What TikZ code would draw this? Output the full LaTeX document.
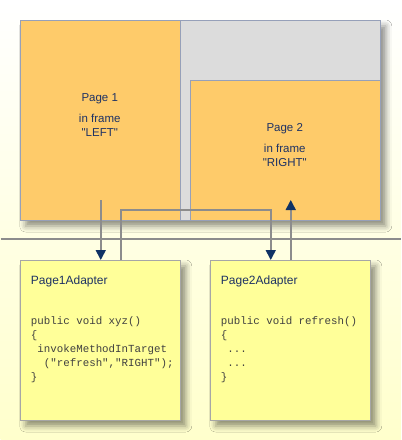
\documentclass[tikz,border=0pt]{standalone}
\usepackage{fontspec}
\setmainfont{Liberation Sans}
\setmonofont{Liberation Mono}
\usepackage{tikz}
\usetikzlibrary{arrows.meta,positioning,shadows.blur}
\definecolor{pageorange}{RGB}{254,203,106}
\definecolor{framegray}{RGB}{220,220,220}
\definecolor{adapteryellow}{RGB}{255,255,153}
\definecolor{textnavy}{RGB}{30,50,100}
\definecolor{codegray}{RGB}{64,64,64}
\definecolor{tipblue}{RGB}{15,50,100}
\definecolor{wiregray}{RGB}{140,140,140}
\definecolor{edgeblue}{RGB}{150,160,185}

\begin{document}
\begin{tikzpicture}[x=1pt,y=-1pt,
    boxshadow/.style={blur shadow={shadow xshift=5pt,shadow yshift=-6pt,shadow blur radius=6pt,shadow opacity=45}},
    browser/.style={draw=edgeblue,fill=framegray,line width=0.8pt,inner sep=0pt,outer sep=0pt,boxshadow},
    page/.style={draw=edgeblue,fill=pageorange,line width=0.8pt,inner sep=0pt,outer sep=0pt},
    adapter/.style={draw=gray!70,fill=adapteryellow,line width=0.8pt,inner sep=0pt,outer sep=0pt,
        minimum width=160pt,minimum height=160pt,anchor=north west,boxshadow},
    pagetext/.style={text=textnavy,font=\fontsize{11.5}{14}\selectfont,align=center,inner sep=0pt},
    title/.style={text=textnavy,font=\fontsize{12}{14}\selectfont,inner sep=0pt,anchor=base west},
    code/.style={text=codegray,font=\ttfamily\fontsize{10.8}{14}\selectfont,align=left,inner sep=0pt,anchor=north west},
    wire/.style={draw=wiregray,line width=1.6pt},
    link/.style={wire,-{Triangle[width=10pt,length=10pt,color=tipblue]}}]
    \shade[top color=white,bottom color={rgb,255:red,255;green,255;blue,204}] (0,0) rectangle (400,440);
    \draw[draw=wiregray,line width=1.5pt] (0,239) -- (400,239);
    \node[browser,minimum width=360pt,minimum height=200pt,anchor=north west] (browser) at (20,20) {};
    \node[page,minimum width=160pt,minimum height=200pt,anchor=north west] (page1) at (browser.north west) {};
    \node[page,minimum width=190pt,minimum height=140pt,anchor=south east] (page2) at (browser.south east) {};
    \node[pagetext] (label1) at (99,115) {Page 1\\[7pt]in frame\\ \textquotedbl LEFT\textquotedbl};
    \node[pagetext] (label2) at (284,145) {Page 2\\[7pt]in frame\\ \textquotedbl RIGHT\textquotedbl};
    \node[adapter] (adapter1) at (20,260) {};
    \node[adapter] (adapter2) at (210,260) {};
    \node[title] (title1) at (30,284) {Page1Adapter};
    \node[title] (title2) at (220,284) {Page2Adapter};
    \node[code] (code1) at (30,316) {public void xyz()\\\{\\\ invokeMethodInTarget\\\ \ ("refresh","RIGHT");\\\}};
    \node[code] (code2) at (220,316) {public void refresh()\\\{\\\ ...\\\ ...\\\}};
    \coordinate (p1out) at (100,200);
    \coordinate (p2in) at (290,200);
    \draw[link] (p1out) -- (adapter1.north);
    \draw[link] ([xshift=20pt]adapter1.north) -- ++(0,-50) -| ([xshift=-20pt]adapter2.north);
    \draw[link] (adapter2.north) -- (p2in);
\end{tikzpicture}
\end{document}
